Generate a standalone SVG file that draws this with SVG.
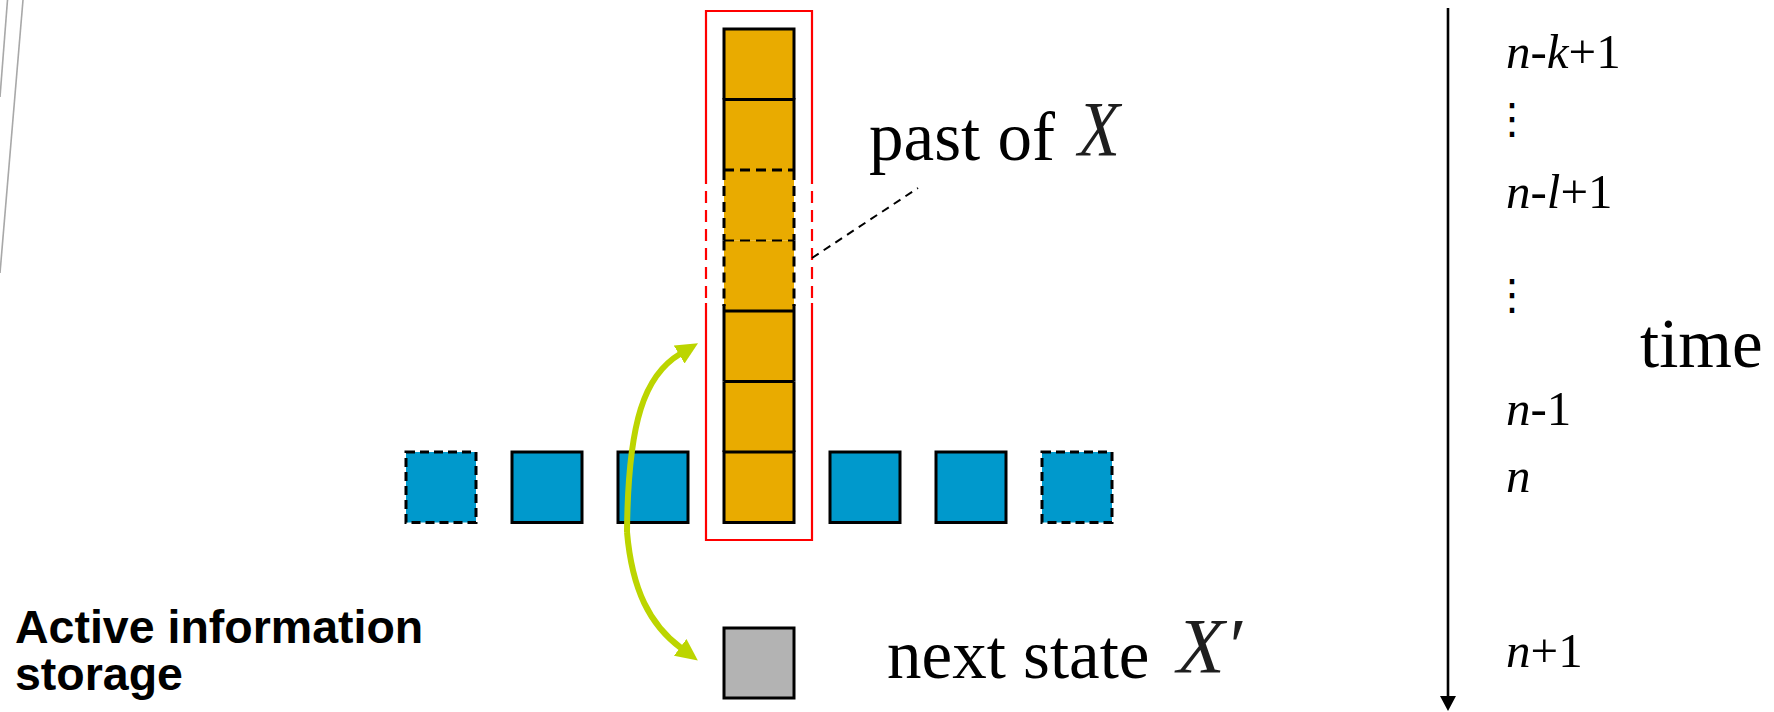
<svg xmlns="http://www.w3.org/2000/svg" width="1774" height="712" viewBox="0 0 1774 712">
  <style>
    .serif { font-family: "Liberation Serif", "Times New Roman", serif; fill: #000; }
    .label { font-size: 69px; }
    .tick { font-size: 49px; }
    .it { font-style: italic; }
    .var { font-family: "Liberation Serif", "Times New Roman", serif; font-style: italic; font-size: 78px; fill: #1e1e1e; }
    .vdots { font-family: "Noto Sans CJK JP", "DejaVu Sans", sans-serif; font-size: 42px; fill: #000; }
    .title { font-family: "Liberation Sans", Arial, sans-serif; font-weight: bold; font-size: 46.5px; fill: #000; }
    .cell { fill: #e9ab00; stroke: none; }
    .edge { fill: none; stroke: #000; stroke-width: 3; }
    .edge-dash { fill: none; stroke: #000; stroke-width: 3; stroke-dasharray: 10 6; }
    .edge-dash-thin { fill: none; stroke: #000; stroke-width: 2; stroke-dasharray: 10 6; }
    .blue { fill: #0099cc; stroke: #000; stroke-width: 3; }
    .blue-dash { fill: #0099cc; stroke: #000; stroke-width: 3; stroke-dasharray: 9 5; }
    .gray { fill: #b3b3b3; stroke: #000; stroke-width: 3; }
    .frame { fill: none; stroke: #ff0000; stroke-width: 2.2; }
    .frame-dash { fill: none; stroke: #ff0000; stroke-width: 2.2; stroke-dasharray: 12 7; }
    .green { fill: none; stroke: #bcd500; stroke-width: 6; }
    .leader { fill: none; stroke: #000; stroke-width: 2; stroke-dasharray: 8 6; }
    .axis { fill: none; stroke: #000; stroke-width: 2.6; }
    .deco { fill: none; stroke: #a8a8a8; stroke-width: 1.6; }
  </style>
  <defs>
    <marker id="green-head" markerUnits="userSpaceOnUse" markerWidth="24" markerHeight="24" refX="1" refY="10.5" orient="auto">
      <path d="M0,0 L22,10.5 L0,21 Z" fill="#bcd500"/>
    </marker>
    <marker id="axis-head" markerUnits="userSpaceOnUse" markerWidth="18" markerHeight="18" refX="1" refY="8" orient="auto">
      <path d="M0,0 L15,8 L0,16 Z" fill="#000"/>
    </marker>
  </defs>

  <rect width="1774" height="712" fill="#fff"/>

  <!-- slide edge decoration -->
  <g id="edge-lines">
    <line class="deco" x1="7.5" y1="0" x2="0" y2="97"/>
    <line class="deco" x1="23" y1="0" x2="0" y2="273"/>
  </g>

  <!-- red frame around the past state of X -->
  <g id="past-frame">
    <path class="frame" d="M706,172 V11 H812 V172 M706,303 V540 H812 V303"/>
    <path class="frame-dash" d="M706,172 V303 M812,172 V303"/>
  </g>

  <!-- process X: history column -->
  <g id="x-n-k1">
    <rect class="cell" x="724" y="29" width="70" height="70.5"/>
    <path class="edge" d="M724,99.5 V29 H794 V99.5"/>
  </g>
  <g id="x-n-k2">
    <rect class="cell" x="724" y="99.5" width="70" height="70.5"/>
    <path class="edge" d="M724,170 V99.5 H794 V170"/>
  </g>
  <g id="x-n-l1">
    <rect class="cell" x="724" y="170" width="70" height="70.5"/>
    <path class="edge-dash" d="M724,170 H794 M724,170 V240.5 M794,170 V240.5"/>
  </g>
  <g id="x-n-l2">
    <rect class="cell" x="724" y="240.5" width="70" height="70.5"/>
    <path class="edge-dash-thin" d="M724,240.5 H794"/>
    <path class="edge-dash" d="M724,240.5 V306 M794,240.5 V306"/>
  </g>
  <g id="x-n-2">
    <rect class="cell" x="724" y="311" width="70" height="70.5"/>
    <path class="edge" d="M724,304 V381.5 M794,304 V381.5 M724,311 H794"/>
  </g>
  <g id="x-n-1">
    <rect class="cell" x="724" y="381.5" width="70" height="70.5"/>
    <path class="edge" d="M724,381.5 H794 M724,381.5 V452 M794,381.5 V452"/>
  </g>
  <g id="x-n">
    <rect class="cell" x="724" y="452" width="70" height="70.5"/>
    <path class="edge" d="M724,452 H794 V522.5 H724 Z"/>
  </g>

  <!-- row of neighbouring variables at time n -->
  <g id="y-1"><rect class="blue-dash" x="406" y="452" width="70" height="70.5"/></g>
  <g id="y-2"><rect class="blue" x="512" y="452" width="70" height="70.5"/></g>
  <g id="y-3"><rect class="blue" x="618" y="452" width="70" height="70.5"/></g>
  <g id="y-5"><rect class="blue" x="830" y="452" width="70" height="70.5"/></g>
  <g id="y-6"><rect class="blue" x="936" y="452" width="70" height="70.5"/></g>
  <g id="y-7"><rect class="blue-dash" x="1042" y="452" width="70" height="70.5"/></g>

  <!-- next state -->
  <g id="x-next"><rect class="gray" x="724" y="628" width="70" height="70"/></g>

  <!-- connectors -->
  <g id="connectors">
    <path class="green" d="M627,532 C628,420 645,375 680,354" marker-end="url(#green-head)"/>
    <path class="green" d="M627,532 C632,590 650,625 681,648" marker-end="url(#green-head)"/>
    <line class="leader" x1="812" y1="258" x2="918" y2="188"/>
    <line class="axis" x1="1448" y1="8" x2="1448" y2="697" marker-end="url(#axis-head)"/>
  </g>

  <!-- labels -->
  <g id="label-past">
    <text class="serif label" x="869" y="160">past of</text>
    <text class="var" x="1078" y="155" textLength="42" lengthAdjust="spacingAndGlyphs">X</text>
  </g>
  <g id="label-next">
    <text class="serif label" x="887" y="678">next state</text>
    <text class="var" x="1177" y="672">X′</text>
  </g>
  <g id="label-time">
    <text class="serif label" x="1640" y="367">time</text>
  </g>
  <g id="time-ticks">
    <text class="serif tick" x="1506" y="68"><tspan class="it">n</tspan>-<tspan class="it">k</tspan>+1</text>
    <text class="vdots" x="1491" y="133">⋮</text>
    <text class="serif tick" x="1506" y="208"><tspan class="it">n</tspan>-<tspan class="it">l</tspan>+1</text>
    <text class="vdots" x="1491" y="309">⋮</text>
    <text class="serif tick" x="1506" y="425"><tspan class="it">n</tspan>-1</text>
    <text class="serif tick it" x="1506" y="492">n</text>
    <text class="serif tick" x="1506" y="667"><tspan class="it">n</tspan>+1</text>
  </g>
  <g id="label-title">
    <text class="title" x="15" y="643">Active information</text>
    <text class="title" x="15" y="690">storage</text>
  </g>
</svg>
